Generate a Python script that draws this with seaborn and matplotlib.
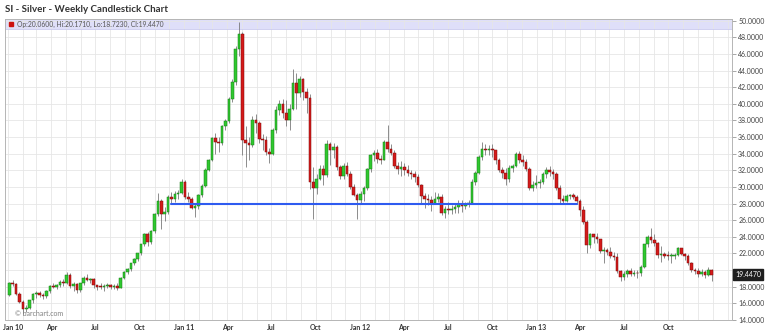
import matplotlib
matplotlib.use("Agg")
import matplotlib.pyplot as plt
import matplotlib.dates as mdates
import matplotlib.transforms as mtransforms
from matplotlib.ticker import FuncFormatter, FixedLocator
import seaborn as sns
import pandas as pd
import numpy as np

sns.set_theme(style="white")
plt.rcParams['font.family'] = ['Lato', 'DejaVu Sans']

# ---------------- data (weekly candles, week start Monday) ----------------
week_start = "2010-01-04"

opens = [
    # 2010
    16.95, 18.45, 18.35, 17.15, 16.20, 15.30, 15.50, 16.35, 17.10, 17.30, 16.95, 16.85, 17.50,
    18.05, 18.00, 18.20, 18.60, 18.45, 19.45, 18.10, 18.35, 17.55, 18.40, 19.10, 18.85, 18.95,
    18.15, 18.00, 17.95, 18.05, 18.25, 17.95, 18.05, 17.85, 19.05, 19.75, 20.15, 20.80, 21.30,
    22.00, 23.10, 24.35, 23.40, 24.70, 26.80, 28.30, 26.80, 27.00, 28.80, 28.60, 29.10, 29.30,
    # 2011
    30.60, 28.85, 28.60, 27.45, 27.70, 29.00, 30.10, 32.10, 33.25, 35.90, 35.40, 35.30, 37.30,
    37.90, 40.60, 42.60, 46.60, 48.40, 35.60, 35.30, 35.00, 38.10, 37.70, 35.80, 35.60, 34.20,
    34.00, 36.80, 39.30, 40.00, 38.90, 38.10, 39.40, 42.50, 41.30, 43.00, 41.40, 40.70, 30.60,
    29.90, 31.00, 32.20, 31.40, 35.20, 34.40, 34.80, 32.40, 31.30, 32.50, 31.60, 30.00, 29.00,
    # 2012
    28.40, 29.20, 29.90, 32.20, 33.80, 34.10, 33.40, 33.30, 35.40, 34.60, 34.10, 32.50, 32.20,
    32.45, 32.00, 31.70, 31.60, 31.20, 30.20, 28.90, 28.50, 28.40, 28.10, 28.60, 28.80, 26.90,
    27.40, 27.20, 27.30, 27.55, 27.90, 27.70, 27.90, 28.10, 30.60, 31.70, 33.60, 34.60, 34.50,
    34.60, 34.40, 33.30, 32.10, 31.70, 30.90, 32.30, 32.50, 34.00, 33.20, 33.00, 32.20, 29.90,
    # 2013
    30.20, 30.45, 30.60, 31.50, 32.00, 31.80, 31.50, 29.90, 28.50, 28.35, 28.90, 29.00, 28.80,
    28.30, 27.20, 25.80, 23.00, 24.30, 24.00, 23.70, 22.30, 22.40, 22.20, 21.70, 21.60, 19.90,
    19.20, 19.55, 19.85, 19.50, 19.70, 19.60, 20.40, 23.10, 24.00, 23.60, 23.30, 21.80, 21.90,
    21.75, 21.70, 21.75, 21.85, 22.60, 21.90, 21.70, 20.80, 20.00, 19.90, 19.55, 19.75, 19.45,
    20.06,
]
highs = [
    # 2010
    18.55, 18.85, 18.45, 17.40, 16.35, 15.75, 16.45, 17.25, 17.45, 17.45, 17.20, 17.60, 18.15,
    18.45, 18.35, 18.80, 18.95, 19.80, 19.60, 18.55, 18.50, 18.50, 19.35, 19.55, 19.10, 19.00,
    18.25, 18.45, 18.30, 18.40, 18.35, 18.30, 18.50, 19.15, 19.85, 20.30, 20.90, 21.45, 22.10,
    23.20, 24.50, 24.60, 24.80, 26.90, 29.30, 28.50, 27.60, 29.00, 29.40, 29.50, 29.60, 30.90,
    # 2011
    30.80, 29.40, 28.80, 28.00, 29.10, 30.40, 32.30, 33.40, 35.95, 36.50, 36.00, 37.50, 38.20,
    40.80, 43.00, 46.90, 49.80, 48.60, 37.30, 36.00, 38.50, 38.80, 37.90, 36.40, 36.10, 34.70,
    37.10, 39.70, 40.50, 40.60, 40.40, 40.00, 44.20, 43.70, 43.30, 43.10, 41.90, 41.20, 32.40,
    31.60, 32.60, 32.60, 35.60, 35.40, 35.30, 35.00, 32.60, 32.90, 33.00, 31.90, 30.30, 29.30,
    # 2012
    29.50, 30.10, 32.30, 34.00, 34.50, 34.60, 33.90, 35.60, 37.50, 35.20, 34.40, 33.00, 33.10,
    32.90, 32.70, 32.10, 31.90, 31.50, 30.40, 29.30, 29.10, 28.90, 29.40, 29.30, 29.20, 27.70,
    28.20, 27.80, 28.00, 28.40, 28.40, 28.20, 28.40, 30.90, 31.90, 33.80, 35.40, 35.20, 35.00,
    35.20, 34.50, 33.50, 32.40, 32.30, 32.60, 32.80, 34.20, 34.30, 33.80, 33.40, 32.40, 30.70,
    # 2013
    31.40, 31.00, 31.80, 32.40, 32.50, 32.20, 31.80, 30.20, 29.00, 29.20, 29.20, 29.30, 29.00,
    28.50, 27.70, 26.00, 24.50, 24.40, 24.50, 23.80, 22.80, 22.60, 22.80, 22.20, 22.10, 20.00,
    19.90, 20.10, 20.30, 20.00, 20.00, 20.60, 23.20, 24.20, 25.10, 24.40, 23.40, 22.90, 22.20,
    22.30, 22.10, 22.10, 22.80, 22.70, 22.10, 21.90, 21.00, 20.20, 20.20, 20.10, 20.00, 20.40,
    20.171,
]
lows = [
    # 2010
    16.85, 18.10, 16.95, 16.10, 14.75, 15.00, 15.35, 16.10, 16.70, 16.80, 16.55, 16.70, 17.30,
    17.80, 17.70, 18.00, 18.10, 18.30, 17.90, 17.50, 17.30, 17.40, 18.20, 18.70, 18.40, 17.90,
    17.55, 17.75, 17.50, 17.80, 17.70, 17.75, 17.60, 17.80, 18.90, 19.50, 19.95, 20.60, 21.10,
    21.80, 22.90, 22.90, 23.10, 24.50, 26.50, 24.90, 25.90, 26.80, 28.10, 28.20, 28.60, 29.20,
    # 2011
    28.60, 28.20, 27.30, 26.40, 27.40, 28.80, 30.00, 31.90, 33.10, 34.00, 34.20, 35.10, 36.90,
    37.70, 40.20, 42.30, 45.70, 33.80, 32.40, 33.20, 34.80, 36.50, 35.30, 34.50, 33.80, 32.90,
    33.80, 36.50, 38.60, 38.30, 37.30, 36.90, 39.30, 39.40, 40.80, 40.50, 38.90, 29.80, 26.10,
    29.20, 30.80, 30.20, 31.20, 32.60, 33.50, 32.00, 30.90, 31.00, 31.30, 29.70, 28.90, 26.20,
    # 2012
    28.00, 28.30, 29.60, 31.80, 33.10, 32.90, 32.80, 33.20, 34.20, 33.90, 32.30, 31.60, 31.30,
    31.40, 31.30, 31.00, 30.60, 30.00, 28.10, 27.50, 27.80, 27.10, 27.90, 28.20, 26.60, 26.30,
    26.80, 26.70, 26.90, 26.90, 27.00, 27.40, 27.60, 28.00, 30.20, 31.50, 33.20, 33.90, 33.80,
    33.60, 32.80, 31.80, 31.10, 30.20, 30.60, 31.80, 32.40, 32.90, 32.50, 31.90, 29.60, 29.50,
    # 2013
    29.90, 29.90, 30.40, 31.10, 31.30, 30.90, 29.60, 27.90, 27.90, 28.20, 28.60, 28.50, 27.90,
    26.50, 25.50, 22.00, 22.60, 23.30, 23.30, 22.00, 20.90, 21.80, 21.50, 21.20, 19.60, 18.70,
    18.80, 19.20, 19.30, 19.30, 19.10, 19.30, 20.30, 22.80, 23.30, 22.90, 21.50, 21.00, 21.40,
    21.20, 20.90, 21.30, 21.70, 21.80, 21.20, 20.60, 19.80, 19.50, 19.20, 19.30, 19.00, 19.30,
    18.723,
]
closes = [
    # 2010
    18.45, 18.35, 17.15, 16.20, 15.30, 15.50, 16.35, 17.10, 17.30, 16.95, 16.85, 17.50, 18.05,
    18.00, 18.20, 18.60, 18.45, 19.45, 18.10, 18.35, 17.55, 18.40, 19.10, 18.85, 18.95, 18.15,
    18.00, 17.95, 18.05, 18.25, 17.95, 18.05, 17.85, 19.05, 19.75, 20.15, 20.80, 21.30, 22.00,
    23.10, 24.35, 23.40, 24.70, 26.80, 28.30, 26.80, 27.00, 28.80, 28.60, 29.10, 29.30, 30.60,
    # 2011
    28.85, 28.60, 27.45, 27.70, 29.00, 30.10, 32.10, 33.25, 35.90, 35.40, 35.30, 37.30, 37.90,
    40.60, 42.60, 46.60, 48.40, 35.60, 35.30, 35.00, 38.10, 37.70, 35.80, 35.60, 34.20, 34.00,
    36.80, 39.30, 40.00, 38.90, 38.10, 39.40, 42.50, 41.30, 43.00, 41.40, 40.70, 30.60, 29.90,
    31.00, 32.20, 31.40, 35.20, 34.40, 34.80, 32.40, 31.30, 32.50, 31.60, 30.00, 29.00, 28.40,
    # 2012
    29.20, 29.90, 32.20, 33.80, 34.10, 33.40, 33.30, 35.40, 34.60, 34.10, 32.50, 32.20, 32.45,
    32.00, 31.70, 31.60, 31.20, 30.20, 28.90, 28.50, 28.40, 28.10, 28.60, 28.80, 26.90, 27.40,
    27.20, 27.30, 27.55, 27.90, 27.70, 27.90, 28.10, 30.60, 31.70, 33.60, 34.60, 34.50, 34.60,
    34.40, 33.30, 32.10, 31.70, 30.90, 32.30, 32.50, 34.00, 33.20, 33.00, 32.20, 29.90, 30.20,
    # 2013
    30.45, 30.60, 31.50, 32.00, 31.80, 31.50, 29.90, 28.50, 28.35, 28.90, 29.00, 28.80, 28.30,
    27.20, 25.80, 23.00, 24.30, 24.00, 23.70, 22.30, 22.40, 22.20, 21.70, 21.60, 19.90, 19.20,
    19.55, 19.85, 19.50, 19.70, 19.60, 20.40, 23.10, 24.00, 23.60, 23.30, 21.80, 21.90, 21.75,
    21.70, 21.75, 21.85, 22.60, 21.90, 21.70, 20.80, 20.00, 19.90, 19.55, 19.75, 19.45, 20.06,
    19.447,
]

support_dates = ["2010-12-06", "2013-03-25"]
support_levels = [27.95, 27.95]

x_tick_dates = ["2010-01-01", "2010-04-01", "2010-07-01", "2010-10-01",
                "2011-01-01", "2011-04-01", "2011-07-01", "2011-10-01",
                "2012-01-01", "2012-04-01", "2012-07-01", "2012-10-01",
                "2013-01-01", "2013-04-01", "2013-07-01", "2013-10-01"]
y_ticks = [14, 16, 18, 20, 22, 24, 26, 28, 30, 32, 34, 36, 38, 40, 42, 44, 46, 48, 50]
title_text = "SI - Silver - Weekly Candlestick Chart"
legend_text = "Op:20.0600, Hi:20.1710, Lo:18.7230, Cl:19.4470"
last_price = 19.447
last_price_label = "19.4470"
watermark = "\u00a9 barchart.com"

# ---------------- figure ----------------
dates = pd.date_range(week_start, periods=len(closes), freq="7D")
df = pd.DataFrame({"date": dates, "open": opens, "high": highs,
                   "low": lows, "close": closes})
df["x"] = mdates.date2num(df["date"])
df["up"] = df["close"] >= df["open"]

W, H = 765, 334
fig = plt.figure(figsize=(W / 100, H / 100), dpi=100)
fig.patch.set_facecolor("white")
ax = fig.add_axes([5 / W, 14 / H, 727 / W, 301 / H])
ax.set_facecolor("white")

x_left = mdates.date2num(pd.Timestamp("2009-12-26"))
x_right = mdates.date2num(pd.Timestamp("2014-02-10"))
ax.set_xlim(x_left, x_right)
ax.set_ylim(14, 50.2)

# header band
ax.axhspan(49.0, 50.2, color="#dfdff9", zorder=0.5, lw=0)
ax.axhline(49.0, color="#c9c9ee", lw=0.6, zorder=0.6)

# grid
ax.xaxis.set_major_locator(FixedLocator(mdates.date2num(pd.to_datetime(x_tick_dates))))
ax.xaxis.set_minor_locator(mdates.MonthLocator())
ax.yaxis.set_major_locator(FixedLocator(y_ticks))
ax.grid(which="both", axis="x", color="#e6e6e6", lw=0.6, zorder=0)
ax.grid(which="major", axis="y", color="#e6e6e6", lw=0.6, zorder=0)


def xfmt(v, pos=None):
    d = mdates.num2date(v)
    if d.month == 1:
        return d.strftime("Jan %y")
    return d.strftime("%b")


ax.xaxis.set_major_formatter(FuncFormatter(xfmt))


def yfmt(v, pos=None):
    if abs(v - 20) < 1e-6:
        return ""
    return f"{v:.4f}"


ax.yaxis.set_major_formatter(FuncFormatter(yfmt))
ax.yaxis.tick_right()
ax.tick_params(axis="y", which="major", length=3, width=0.6, color="#999999",
               labelsize=5, labelcolor="#444444", pad=1.5, right=True, left=False)
ax.tick_params(axis="x", which="both", length=0, labelsize=5,
               labelcolor="#333333", pad=3)
fig.canvas.draw()
xlabels = ax.get_xticklabels()
for lab in xlabels:
    lab.set_fontweight("bold")
# keep the first (partly off-edge) label inside the figure
xlabels[0].set_transform(xlabels[0].get_transform() +
                         mtransforms.ScaledTranslation(5 / 100, 0, fig.dpi_scale_trans))

for side in ["left", "right", "bottom", "top"]:
    ax.spines[side].set_color("#b5b5b5")
    ax.spines[side].set_linewidth(0.7)

# candles
ax.vlines(df["x"], df["low"], df["high"], color="#7a7a7a", lw=0.6, zorder=2)
body_low = np.minimum(df["open"], df["close"])
body_h = np.maximum(np.abs(df["close"] - df["open"]), 0.08)
colors = np.where(df["up"], "#2fc82f", "#d41a1a")
edges = np.where(df["up"], "#177a17", "#7d0a0a")
ax.bar(df["x"], body_h, bottom=body_low, width=5.4, color=colors,
       edgecolor=edges, linewidth=0.35, zorder=3)

# support line
sns.lineplot(x=mdates.date2num(pd.to_datetime(support_dates)), y=support_levels,
             ax=ax, color="#2e5bf0", lw=1.5, zorder=4)

# texts
fig.text(5 / W, 1 - 9 / H, title_text, fontsize=7.0, fontweight="bold",
         color="#333333", va="center", ha="left")
ax.plot([0.0085], [(49.6 - 14) / 36.2], marker="s", ms=3.2, color="#cc1111",
        transform=ax.transAxes, clip_on=False, zorder=6)
ax.text(0.0165, (49.6 - 14) / 36.2, legend_text, transform=ax.transAxes,
        fontsize=4.9, color="#555555", va="center", ha="left", zorder=6)
ax.text(10 / 727, 7 / 301, watermark, transform=ax.transAxes, fontsize=5,
        color="#808080", va="center", ha="left", zorder=6)

trans = mtransforms.blended_transform_factory(ax.transAxes, ax.transData)
ax.text(1.004, last_price, last_price_label, transform=trans, fontsize=5,
        color="white", va="center", ha="left", zorder=7, clip_on=False,
        bbox=dict(boxstyle="square,pad=0.25", facecolor="#1e1e1e",
                  edgecolor="#1e1e1e"))

fig.savefig("out.png", dpi=100, facecolor="white")
